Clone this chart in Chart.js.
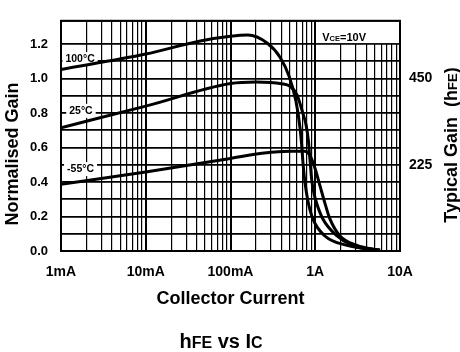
<!DOCTYPE html>
<html>
<head>
<meta charset="utf-8">
<script src="https://cdn.jsdelivr.net/npm/chart.js@4"></script>
<style>
  html, body { margin: 0; background: #fff; }
  #wrap { width: 460px; height: 352px; }
</style>
</head>
<body>
<div id="wrap"><canvas id="gainChart"></canvas></div>
<script>
// collector current (A) and normalised gain
const ic100 = [0.001, 0.01, 0.044, 0.1, 0.16, 0.27, 0.384, 0.49, 0.593, 0.661, 0.69, 0.72, 0.76, 0.82, 0.938, 1.3, 2.37, 5.8];
const gain100 = [1.053, 1.142, 1.218, 1.245, 1.252, 1.206, 1.124, 1.015, 0.867, 0.715, 0.62, 0.5, 0.39, 0.29, 0.186, 0.087, 0.033, 0.004];

const ic25 = [0.001, 0.01, 0.1, 0.2, 0.4, 0.504, 0.609, 0.717, 0.78, 0.83, 0.87, 0.91, 0.97, 1.05, 1.23, 1.81, 2.71, 5.8];
const gain25 = [0.715, 0.84, 0.971, 0.98, 0.97, 0.955, 0.906, 0.796, 0.73, 0.64, 0.52, 0.41, 0.33, 0.27, 0.186, 0.087, 0.033, 0.004];

const icM55 = [0.001, 0.01, 0.1, 0.25, 0.5, 0.75, 0.85, 0.993, 1.14, 1.3, 1.49, 1.96, 3.11, 5.8];
const gainM55 = [0.387, 0.458, 0.537, 0.568, 0.578, 0.578, 0.56, 0.48, 0.376, 0.278, 0.186, 0.087, 0.033, 0.004];

const decadeTicks = [0.001, 0.01, 0.1, 1, 10];
const decadeLabels = ["1mA", "10mA", "100mA", "1A", "10A"];
const leftTicks = [0, 0.2, 0.4, 0.6, 0.8, 1.0, 1.2];
const leftLabels = ["0.0", "0.2", "0.4", "0.6", "0.8", "1.0", "1.2"];
const rightTicks = [225, 450];
const hfeAtUnity = 450;
const tempLabels = ["100°C", "25°C", "-55°C"];

const FONT = '"Liberation Sans", Arial, sans-serif';
const Y_MAX = 1.335;

function pts(xs, ys) {
    return xs.map((x, i) => ({ x: x, y: ys[i] }));
}

function mixedWidth(ctx, parts) {
    let w = 0;
    parts.forEach(([t, size]) => {
        ctx.font = "bold " + size + "px " + FONT;
        w += ctx.measureText(t).width;
    });
    return w;
}

function drawMixed(ctx, parts, x, y) {
    parts.forEach(([t, size]) => {
        ctx.font = "bold " + size + "px " + FONT;
        ctx.fillText(t, x, y);
        x += ctx.measureText(t).width;
    });
}

const annotations = {
    id: "annotations",
    beforeDatasetsDraw(chart) {
        const { ctx, chartArea: a, scales: { x, y } } = chart;
        ctx.save();

        // V_CE box in the top right corner
        const bx = x.getPixelForValue(1), by = y.getPixelForValue(1.2);
        ctx.fillStyle = "#fff";
        ctx.fillRect(bx + 1, a.top + 1, a.right - bx - 2, by - a.top - 2);
        ctx.fillStyle = "#000";
        ctx.textAlign = "left";
        ctx.textBaseline = "alphabetic";
        drawMixed(ctx, [["V", 11], ["CE", 7.5], ["=10V", 11]], bx + 7, a.top + 20);

        // temperature labels (anchors in data units)
        const anchors = [[0.00168, 1.113], [0.00172, 0.813], [0.0017, 0.475]];
        ctx.font = "bold 10.5px " + FONT;
        ctx.textAlign = "center";
        ctx.textBaseline = "middle";
        tempLabels.forEach((t, i) => {
            const px = x.getPixelForValue(anchors[i][0]);
            const py = y.getPixelForValue(anchors[i][1]);
            const w = ctx.measureText(t).width;
            ctx.fillStyle = "#fff";
            ctx.fillRect(px - w / 2 - 3, py - 7, w + 6, 14);
            ctx.fillStyle = "#000";
            ctx.fillText(t, px, py);
        });

        // frame
        ctx.lineWidth = 2;
        ctx.strokeStyle = "#000";
        ctx.strokeRect(a.left, a.top, a.right - a.left, a.bottom - a.top);
        ctx.restore();
    },
    afterDraw(chart) {
        const { ctx } = chart;
        ctx.save();
        ctx.fillStyle = "#000";

        // left axis title
        ctx.save();
        ctx.translate(13, 154);
        ctx.rotate(-Math.PI / 2);
        ctx.font = "bold 18px " + FONT;
        ctx.textAlign = "center";
        ctx.textBaseline = "middle";
        ctx.fillText("Normalised Gain", 0, 0);
        ctx.restore();

        // right axis title
        ctx.save();
        ctx.translate(450, 145);
        ctx.rotate(-Math.PI / 2);
        ctx.textAlign = "left";
        ctx.textBaseline = "alphabetic";
        const rParts = [["Typical Gain  (h", 18], ["FE", 13], [")", 18]];
        drawMixed(ctx, rParts, -mixedWidth(ctx, rParts) / 2, 6.5);
        ctx.restore();

        // caption
        ctx.textAlign = "left";
        ctx.textBaseline = "alphabetic";
        const tParts = [["h", 20], ["FE", 16], [" vs ", 20], ["I", 20], ["C", 16]];
        drawMixed(ctx, tParts, 221 - mixedWidth(ctx, tParts) / 2, 348);
        ctx.restore();
    }
};

const curve = (data) => ({
    data: data,
    borderColor: "#000",
    borderWidth: 3,
    pointRadius: 0,
    fill: false,
    cubicInterpolationMode: "monotone"
});

const ctx = document.getElementById("gainChart").getContext("2d");
new Chart(ctx, {
    type: "line",
    data: {
        datasets: [
            curve(pts(ic100, gain100)),
            curve(pts(ic25, gain25)),
            curve(pts(icM55, gainM55))
        ]
    },
    options: {
        responsive: true,
        maintainAspectRatio: false,
        animation: false,
        layout: { padding: { top: 6, bottom: 39, left: 0, right: 0 } },
        plugins: { legend: { display: false }, tooltip: { enabled: false } },
        scales: {
            x: {
                type: "logarithmic",
                min: 0.001,
                max: 10,
                afterBuildTicks: scale => {
                    const t = [];
                    decadeTicks.forEach((d, i) => {
                        const last = i === decadeTicks.length - 1;
                        for (let k = 1; k < (last ? 2 : 10); k++) t.push({ value: d * k });
                    });
                    scale.ticks = t;
                },
                afterFit: scale => { scale.height = 62; },
                grid: {
                    color: "#000",
                    drawTicks: false,
                    lineWidth: c => (c.tick && decadeTicks.includes(c.tick.value)) ? 2 : 1.2
                },
                border: { display: false },
                ticks: {
                    autoSkip: false,
                    maxRotation: 0,
                    padding: 13,
                    color: "#000",
                    font: { family: FONT, size: 14, weight: "bold" },
                    callback: v => {
                        const i = decadeTicks.indexOf(v);
                        return i >= 0 ? decadeLabels[i] : "";
                    }
                },
                title: {
                    display: true,
                    text: "Collector Current",
                    color: "#000",
                    font: { family: FONT, size: 18, weight: "bold" },
                    padding: { top: 0, bottom: 3 }
                }
            },
            y: {
                min: 0,
                max: Y_MAX,
                afterFit: scale => { scale.width = 61; },
                grid: { color: "#000", lineWidth: 1.8, drawTicks: false },
                border: { display: false },
                ticks: {
                    stepSize: 0.1,
                    autoSkip: false,
                    padding: 13,
                    color: "#000",
                    font: { family: FONT, size: 13, weight: "bold" },
                    callback: v => {
                        const i = leftTicks.findIndex(t => Math.abs(t - v) < 1e-6);
                        return i >= 0 ? leftLabels[i] : "";
                    }
                }
            },
            y2: {
                position: "right",
                min: 0,
                max: Y_MAX * hfeAtUnity,
                afterBuildTicks: scale => { scale.ticks = rightTicks.map(v => ({ value: v })); },
                afterFit: scale => { scale.width = 60; },
                grid: { display: false, drawTicks: false },
                border: { display: false },
                ticks: {
                    padding: 9,
                    color: "#000",
                    font: { family: FONT, size: 14, weight: "bold" },
                    callback: v => String(v)
                }
            }
        }
    },
    plugins: [annotations]
});
</script>
</body>
</html>
